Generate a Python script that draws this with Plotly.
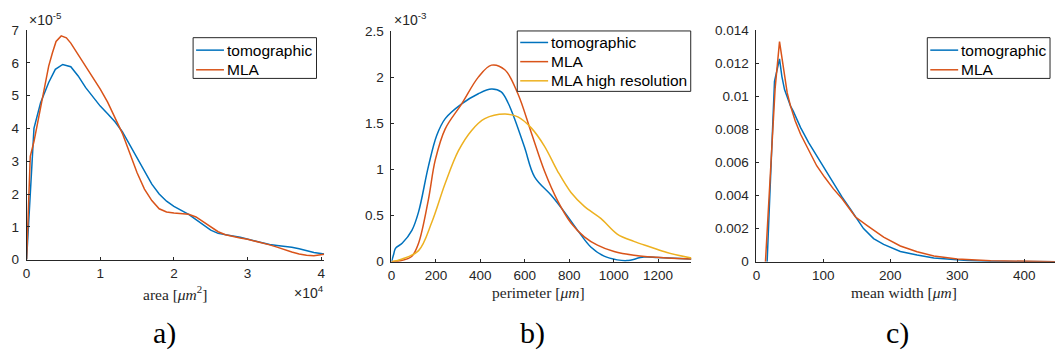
import plotly.graph_objects as go

W, H = 1056, 363

# ---------------- data ----------------
# a) area [um^2] vs density
area_tomo_x = [0, 1000, 1900, 3000, 3900, 4900, 6000, 7000, 8000, 9000, 10000, 11000, 12000, 13000,
               14000, 15000, 16000, 17000, 18000, 19000, 20000, 21000, 22000, 23000, 24000, 25000,
               26000, 27000, 28000, 29000, 30000, 31000, 32000, 33000, 34000, 35000, 36000, 37000,
               38000, 39000, 40400]
area_tomo_y = [0, 4.0e-5, 4.78e-5, 5.4e-5, 5.8e-5, 5.95e-5, 5.88e-5, 5.6e-5, 5.25e-5, 4.95e-5, 4.68e-5,
               4.45e-5, 4.2e-5, 3.9e-5, 3.5e-5, 3.1e-5, 2.7e-5, 2.3e-5, 2.0e-5, 1.78e-5, 1.62e-5,
               1.5e-5, 1.38e-5, 1.22e-5, 1.05e-5, 0.9e-5, 0.8e-5, 0.75e-5, 0.72e-5, 0.68e-5, 0.62e-5,
               0.56e-5, 0.5e-5, 0.46e-5, 0.43e-5, 0.41e-5, 0.38e-5, 0.33e-5, 0.27e-5, 0.22e-5, 0.17e-5]
area_mla_x = [0, 500, 1000, 2000, 3000, 3500, 4000, 4700, 5400, 6000, 7000, 8000, 9000, 10000, 11000,
              12000, 13000, 14000, 15000, 16000, 17000, 18000, 19000, 20000, 21000, 22000, 23000,
              24000, 25000, 26000, 27000, 28000, 29000, 30000, 31000, 32000, 33000, 34000, 35000,
              36000, 37000, 38000, 39000, 40400]
area_mla_y = [0, 3.15e-5, 3.6e-5, 4.7e-5, 5.9e-5, 6.3e-5, 6.65e-5, 6.82e-5, 6.76e-5, 6.6e-5, 6.25e-5,
              5.9e-5, 5.55e-5, 5.2e-5, 4.8e-5, 4.35e-5, 3.85e-5, 3.25e-5, 2.65e-5, 2.15e-5, 1.8e-5,
              1.55e-5, 1.45e-5, 1.42e-5, 1.4e-5, 1.38e-5, 1.3e-5, 1.15e-5, 1.0e-5, 0.85e-5, 0.76e-5,
              0.7e-5, 0.66e-5, 0.62e-5, 0.57e-5, 0.52e-5, 0.45e-5, 0.38e-5, 0.3e-5, 0.23e-5, 0.17e-5,
              0.13e-5, 0.12e-5, 0.16e-5]

# b) perimeter [um] vs density
per_tomo_x = [0, 10, 18, 48, 92, 122, 166, 204, 242, 316, 391, 450, 494, 525, 554, 599, 644, 719, 778,
              838, 897, 957, 1016, 1060, 1136, 1200, 1350]
per_tomo_y = [0, 0.08e-3, 0.145e-3, 0.2e-3, 0.34e-3, 0.54e-3, 1.03e-3, 1.37e-3, 1.55e-3, 1.71e-3,
              1.82e-3, 1.87e-3, 1.84e-3, 1.72e-3, 1.55e-3, 1.24e-3, 0.92e-3, 0.72e-3, 0.54e-3,
              0.34e-3, 0.16e-3, 0.06e-3, 0.02e-3, 0.012e-3, 0.05e-3, 0.045e-3, 0.03e-3]
per_mla_x = [0, 40, 92, 122, 166, 197, 242, 316, 391, 450, 510, 569, 629, 689, 748, 808, 868, 927,
             1002, 1091, 1240, 1350]
per_mla_y = [0, 0.01e-3, 0.06e-3, 0.2e-3, 0.67e-3, 1.1e-3, 1.44e-3, 1.71e-3, 2.0e-3, 2.13e-3,
             2.08e-3, 1.82e-3, 1.4e-3, 0.98e-3, 0.66e-3, 0.42e-3, 0.27e-3, 0.18e-3, 0.11e-3,
             0.07e-3, 0.04e-3, 0.03e-3]
per_hr_x = [0, 48, 122, 182, 242, 301, 360, 420, 510, 569, 629, 689, 748, 808, 868, 942, 1016, 1091,
            1165, 1240, 1350]
per_hr_y = [0, 0.03e-3, 0.12e-3, 0.43e-3, 0.85e-3, 1.2e-3, 1.42e-3, 1.55e-3, 1.6e-3, 1.57e-3,
            1.45e-3, 1.25e-3, 0.98e-3, 0.75e-3, 0.6e-3, 0.47e-3, 0.3e-3, 0.22e-3, 0.16e-3, 0.1e-3,
            0.04e-3]

# c) mean width [um] vs density
mw_tomo_x = [16, 27, 34.5, 38, 42, 46, 51, 55, 66, 78, 90, 115, 128, 140, 148, 160, 175, 190, 215,
             240, 265, 290, 315, 350, 400, 446]
mw_tomo_y = [0, 0.0109, 0.01225, 0.0112, 0.0104, 0.0099, 0.0094, 0.0091, 0.0081, 0.0072, 0.0064,
             0.0047, 0.0039, 0.0032, 0.0027, 0.0020, 0.0014, 0.00105, 0.00062, 0.0004, 0.00023,
             0.00013, 0.00007, 0.00003, 0.00001, 0.0]
mw_mla_x = [13.5, 28, 34.5, 41, 46, 51, 58, 66, 78, 90, 102, 115, 128, 140, 148, 165, 190, 215, 240,
            265, 300, 350, 400, 446]
mw_mla_y = [0, 0.0105, 0.0133, 0.0115, 0.0102, 0.0094, 0.0085, 0.0077, 0.0067, 0.0058, 0.0051,
            0.0044, 0.0038, 0.0031, 0.0027, 0.0022, 0.00148, 0.00095, 0.0006, 0.00035, 0.00017,
            0.00006, 0.00002, 0.0]

a_xticks = [0, 10000, 20000, 30000, 40000]
a_xtext = ["0", "1", "2", "3", "4"]
a_yticks = [0, 1e-5, 2e-5, 3e-5, 4e-5, 5e-5, 6e-5, 7e-5]
a_ytext = ["0", "1", "2", "3", "4", "5", "6", "7"]
b_xticks = [0, 200, 400, 600, 800, 1000, 1200]
b_yticks = [0, 0.5e-3, 1e-3, 1.5e-3, 2e-3, 2.5e-3]
b_ytext = ["0", "0.5", "1", "1.5", "2", "2.5"]
c_xticks = [0, 100, 200, 300, 400]
c_yticks = [0, 0.002, 0.004, 0.006, 0.008, 0.01, 0.012, 0.014]
c_ytext = ["0", "0.002", "0.004", "0.006", "0.008", "0.01", "0.012", "0.014"]

legend_a = ["tomographic", "MLA"]
legend_b = ["tomographic", "MLA", "MLA high resolution"]
legend_c = ["tomographic", "MLA"]

BLUE, RED, YEL = "#0072BD", "#D95319", "#EDB120"
AX = "#262626"
SANS = "Liberation Sans, Arial, sans-serif"
SERIF = "Liberation Serif, Times New Roman, serif"


def px(x):
    return x / W


def py(y):
    return (H - y) / H


fig = go.Figure()
lw = 1.5
fig.add_trace(go.Scatter(x=area_tomo_x, y=area_tomo_y, mode="lines", name=legend_a[0],
                         line=dict(color=BLUE, width=lw), xaxis="x", yaxis="y"))
fig.add_trace(go.Scatter(x=area_mla_x, y=area_mla_y, mode="lines", name=legend_a[1],
                         line=dict(color=RED, width=lw), xaxis="x", yaxis="y"))
fig.add_trace(go.Scatter(x=per_tomo_x, y=per_tomo_y, mode="lines", name=legend_b[0], line_shape="spline",
                         line=dict(color=BLUE, width=lw), xaxis="x2", yaxis="y2"))
fig.add_trace(go.Scatter(x=per_mla_x, y=per_mla_y, mode="lines", name=legend_b[1], line_shape="spline",
                         line=dict(color=RED, width=lw), xaxis="x2", yaxis="y2"))
fig.add_trace(go.Scatter(x=per_hr_x, y=per_hr_y, mode="lines", name=legend_b[2], line_shape="spline",
                         line=dict(color=YEL, width=lw), xaxis="x2", yaxis="y2"))
fig.add_trace(go.Scatter(x=mw_tomo_x, y=mw_tomo_y, mode="lines", name=legend_c[0],
                         line=dict(color=BLUE, width=lw), xaxis="x3", yaxis="y3"))
fig.add_trace(go.Scatter(x=mw_mla_x, y=mw_mla_y, mode="lines", name=legend_c[1],
                         line=dict(color=RED, width=lw), xaxis="x3", yaxis="y3"))

tickfont = dict(family=SANS, size=13.5, color=AX)
common = dict(showline=True, linecolor=AX, linewidth=1, ticks="inside", ticklen=3, tickcolor=AX,
              tickwidth=1, showgrid=False, zeroline=False, tickfont=tickfont, mirror=False)
xcommon = dict(ticklabelstandoff=1, **common)
ycommon = dict(ticklabelstandoff=4, **common)

fig.update_layout(
    width=W, height=H, margin=dict(l=0, r=0, t=0, b=0),
    paper_bgcolor="white", plot_bgcolor="white", showlegend=False,
    xaxis=dict(domain=[px(22.7), px(321.7)], range=[0, 40400], tickvals=a_xticks, ticktext=a_xtext,
               anchor="y", **xcommon),
    yaxis=dict(domain=[py(263.5), py(24)], range=[0, 7e-5], tickvals=a_yticks, ticktext=a_ytext,
               anchor="x", **ycommon),
    xaxis2=dict(domain=[px(389.3), px(690.7)], range=[0, 1350], tickvals=b_xticks,
                ticktext=[str(v) for v in b_xticks], anchor="y2", **xcommon),
    yaxis2=dict(domain=[py(265.7), py(25)], range=[0, 2.5e-3], tickvals=b_yticks, ticktext=b_ytext,
                anchor="x2", **ycommon),
    xaxis3=dict(domain=[px(756), 1.0], range=[0, 446], tickvals=c_xticks,
                ticktext=[str(v) for v in c_xticks], anchor="y3", **xcommon),
    yaxis3=dict(domain=[py(265.7), py(24)], range=[0, 0.014], tickvals=c_yticks, ticktext=c_ytext,
                anchor="x3", **ycommon),
)

ann = []
shapes = []


def add_text(text, x, y, font, xanchor="center", yanchor="middle"):
    ann.append(dict(text=text, x=px(x), y=py(y), xref="paper", yref="paper", showarrow=False,
                    xanchor=xanchor, yanchor=yanchor, font=font))


# legend boxes drawn in page pixels
legfont = dict(family=SANS, size=15.5, color="#000000")


def add_legend(labels, colors, x0, x1, y0, y1, row0, rowgap):
    shapes.append(dict(type="rect", xref="paper", yref="paper", x0=px(x0), x1=px(x1),
                       y0=py(y1), y1=py(y0), line=dict(color=AX, width=1), fillcolor="white",
                       layer="above"))
    for i, (lab, col) in enumerate(zip(labels, colors)):
        yy = row0 + i * rowgap
        shapes.append(dict(type="line", xref="paper", yref="paper", x0=px(x0 + 3), x1=px(x0 + 31),
                           y0=py(yy), y1=py(yy), line=dict(color=col, width=lw), layer="above"))
        add_text(lab, x0 + 32, yy, legfont, xanchor="left")


add_legend(legend_a, [BLUE, RED], 190, 314, 32, 74.5, 45, 20.5)
add_legend(legend_b, [BLUE, RED, YEL], 515.7, 690, 25, 88, 37, 20)
add_legend(legend_c, [BLUE, RED], 927.7, 1051, 32, 74.5, 45, 20.5)

sfont = dict(family=SANS, size=14, color=AX)
add_text("×10<sup>-5</sup>", 23, 13, sfont, xanchor="left")
add_text("×10<sup>-3</sup>", 390, 13, sfont, xanchor="left")
add_text("×10<sup>4</sup>", 306, 297, sfont, xanchor="center")

lfont = dict(family=SERIF, size=15.5, color=AX)
add_text("area [<i>μm</i><sup>2</sup>]", 172, 298, lfont)
add_text("perimeter [<i>μm</i>]", 537, 298, lfont)
add_text("mean width [<i>μm</i>]", 904, 298, lfont)

pfont = dict(family=SERIF, size=30, color="#000000")
add_text("a)", 161, 340, pfont)
add_text("b)", 531, 340, pfont)
add_text("c)", 898, 340, pfont)

fig.update_layout(annotations=ann, shapes=shapes)
fig.write_html("out.html")
